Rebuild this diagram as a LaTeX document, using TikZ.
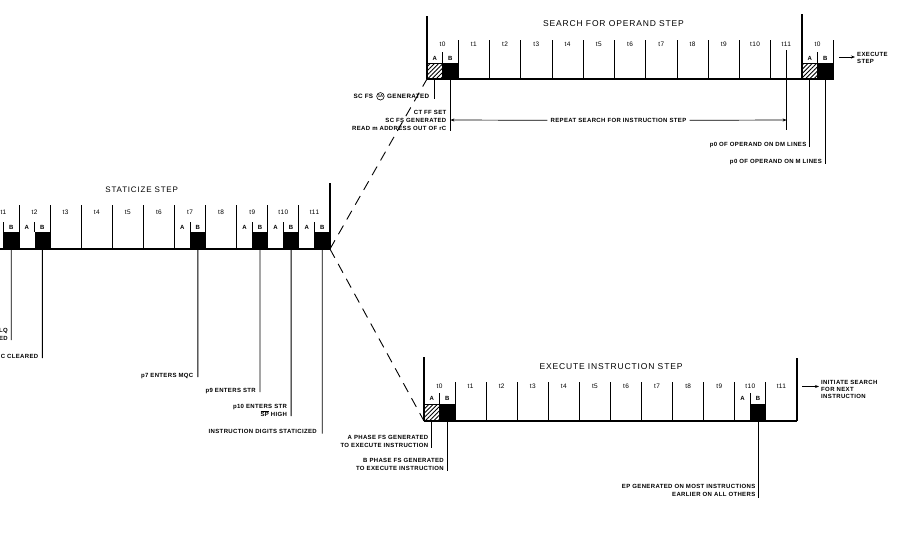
\documentclass[tikz,border=0pt]{standalone}
\usepackage{fontspec}
\setmainfont{Liberation Sans}
\newfontfamily\labfnt[LetterSpace=6]{Liberation Sans}
\newfontfamily\hdfnt[LetterSpace=10]{Liberation Sans}
\usetikzlibrary{patterns,patterns.meta,arrows.meta}
\newcommand\ovl[1]{$\overline{\mbox{#1}}$}
\tikzset{
  lab/.style={font=\labfnt\bfseries\fontsize{6}{8}\selectfont, inner sep=0pt, text depth=0pt, align=right},
  labl/.style={font=\labfnt\bfseries\fontsize{6}{7}\selectfont, inner sep=0pt, align=left},
  tl/.style={font=\labfnt\fontsize{6.5}{7}\selectfont, inner sep=0pt},
  ab/.style={font=\labfnt\bfseries\fontsize{6}{7}\selectfont, inner sep=0pt},
  hd/.style={font=\hdfnt\fontsize{8.5}{10}\selectfont, inner sep=0pt},
  dv/.style={line width=0.9pt},
  bl/.style={line width=1.3pt},
  ln/.style={line width=0.9pt},
  arr/.style={line width=0.7pt, -{Stealth[length=4pt,width=3pt]}},
  hatch/.style={draw, line width=0.7pt, pattern={Lines[angle=45,distance=3pt,line width=0.9pt]}},
  dsh/.style={line width=0.9pt, dash pattern=on 10pt off 7pt},
}
\begin{document}
\begin{tikzpicture}[x=1pt,y=-1pt]
\useasboundingbox (0,0) rectangle (913,549);

% ================= STATICIZE STEP =================
\def\sx{-12.1}\def\sw{31.1}
\node[hd, font=\hdfnt\fontsize{8}{10}\selectfont] (hstat) at (141.7,190) {STATICIZE STEP};
\foreach \k in {1,...,10} \draw[dv] ({\sx+\k*\sw},205) -- ({\sx+\k*\sw},249);
\foreach \k in {1,...,11} \node[tl] (st\k) at ({\sx+(\k-0.5)*\sw},212) {t\k};
\foreach \k in {2,7,9,10,11} \node[ab] (sA\k) at ({\sx+(\k-0.75)*\sw},227) {A};
\foreach \k in {1,2,7,9,10,11} {
  \node[ab] (sB\k) at ({\sx+(\k-0.25)*\sw},227) {B};
  \draw[dv] ({\sx+(\k-0.5)*\sw},222) -- ({\sx+(\k-0.5)*\sw},232);
  \fill ({\sx+(\k-0.5)*\sw},232) rectangle ({\sx+\k*\sw},249);
  \coordinate (sb\k) at ({\sx+(\k-0.25)*\sw},249);
}
\draw[bl] (-13,249) -- (330,249);
\coordinate (sEnd) at (330,249);
\draw[bl] (330,183) -- (sEnd);

\coordinate (se1) at (11.2,340);
\draw[ln] (sb1) -- (se1);
\node[lab, anchor=south east] (ls1) at (8,340.5) {LQ\\ED};
\coordinate (se2) at (42.3,358);
\draw[ln] (sb2) -- (se2);
\node[lab, anchor=south east] (ls2) at (38.5,358.5) {C CLEARED};
\coordinate (se7) at (197.8,377);
\draw[ln] (sb7) -- (se7);
\node[lab, anchor=south east] (ls7) at (193.5,377.5) {p7 ENTERS MQC};
\coordinate (se9) at (260,392);
\draw[ln] (sb9) -- (se9);
\node[lab, anchor=south east] (ls9) at (256,392.5) {p9 ENTERS STR};
\coordinate (se10) at (291.1,416);
\draw[ln] (sb10) -- (se10);
\node[lab, anchor=south east] (ls10) at (287.2,416.5) {p10 ENTERS STR\\\ovl{SP} HIGH};
\coordinate (se11) at (322.2,433.5);
\draw[ln] (sb11) -- (se11);
\node[lab, anchor=south east] (ls11) at (317,434) {INSTRUCTION DIGITS STATICIZED};

% ================= SEARCH FOR OPERAND STEP =================
\def\qx{427}\def\qw{31.25}
\node[hd] (hsearch) at (613.5,24) {SEARCH FOR OPERAND STEP};
\foreach \k in {1,...,11} \draw[dv] ({\qx+\k*\qw},40) -- ({\qx+\k*\qw},79);
\foreach \k in {0,...,11} \node[tl] (qt\k) at ({\qx+(\k+0.5)*\qw},44) {t\k};
\coordinate (qOrig) at (427,79);
\draw[bl] (427,16) -- (qOrig);
\draw[bl] (802,14) -- (802,79);
\draw[dv] (833,40) -- (833,79);
\draw[bl] (qOrig) -- (833,79);
\node[tl] (qt0b) at (817.5,44) {t0};
% first t0
\node[ab] (qA1) at (434.8,58) {A};
\node[ab] (qB1) at (450.4,58) {B};
\draw[dv] (442.6,52) -- (442.6,63);
\path[hatch] (427,63) rectangle (442.6,79);
\filldraw[line width=0.7pt] (442.6,63) rectangle (458.25,79);
% second t0
\node[ab] (qA2) at (809.8,58) {A};
\node[ab] (qB2) at (825.4,58) {B};
\draw[dv] (817.6,52) -- (817.6,63);
\path[hatch] (802,63) rectangle (817.6,79);
\filldraw[line width=0.7pt] (817.6,63) rectangle (833,79);

% lines under search
\coordinate (qa1t) at (434.8,79); \coordinate (qa1e) at (434.8,99);
\draw[ln] (qa1t) -- (qa1e);
\node[lab, anchor=south east, font=\labfnt\bfseries\fontsize{6.3}{8}\selectfont] (lgen) at (429.5,98.5) {GENERATED};
\node[draw, circle, line width=0.6pt, inner sep=0pt, minimum size=7.5pt, font=\bfseries\fontsize{4.2}{5}\selectfont, anchor=east] (circ) at ([xshift=-2.5pt,yshift=2.2pt]lgen.south west) {1A};
\node[lab, anchor=south east, font=\labfnt\bfseries\fontsize{6.3}{8}\selectfont] (lscfs) at ([xshift=-3pt]circ.west |- lgen.south) {SC FS};

\coordinate (qb1t) at (450.4,79); \coordinate (qb1e) at (450.4,131);
\draw[ln] (qb1t) -- (qb1e);
\node[lab, anchor=south east] (lct) at (446.5,131) {CT FF SET\\SC FS GENERATED\\READ m ADDRESS OUT OF rC};
\coordinate (qb1m) at (450.4,120);

\coordinate (q11t) at (786.6,50); \coordinate (q11e) at (786.6,129.5);
\draw[ln] (q11t) -- (q11e);
\coordinate (q11m) at (786.6,120);
\node[lab] (rep) at (618.5,120.3) {REPEAT SEARCH FOR INSTRUCTION STEP};
\draw[arr] ([xshift=-3pt]rep.west) -- (qb1m);
\draw[arr] ([xshift=3pt]rep.east) -- (q11m);

\coordinate (qa2t) at (809.8,79); \coordinate (qa2e) at (809.8,147);
\draw[ln] (qa2t) -- (qa2e);
\node[lab, anchor=south east] (ldm) at (806.5,146.5) {p0 OF OPERAND ON DM LINES};
\coordinate (qb2t) at (825.4,79); \coordinate (qb2e) at (825.4,164);
\draw[ln] (qb2t) -- (qb2e);
\node[lab, anchor=south east] (lm) at (822,163.5) {p0 OF OPERAND ON M LINES};

\node[labl, anchor=west] (exs) at (857,58.3) {EXECUTE\\STEP};
\coordinate (exsa) at (839,57);
\draw[arr] (exsa) -- ([xshift=-2pt]exs.west |- exsa);

% ================= EXECUTE INSTRUCTION STEP =================
\def\ex{424}\def\ew{31.08}
\node[hd] (hexec) at (611,367) {EXECUTE INSTRUCTION STEP};
\foreach \k in {1,...,11} \draw[dv] ({\ex+\k*\ew},382) -- ({\ex+\k*\ew},421);
\foreach \k in {0,...,11} \node[tl] (et\k) at ({\ex+(\k+0.5)*\ew},386) {t\k};
\coordinate (eOrig) at (424,421);
\draw[bl] (424,357) -- (eOrig);
\draw[bl] (797,358) -- (797,421);
\draw[bl] (eOrig) -- (797,421);
% t0
\node[ab] (eA0) at (431.8,398) {A};
\node[ab] (eB0) at (447.3,398) {B};
\draw[dv] (439.5,393) -- (439.5,404);
\path[hatch] (424,404) rectangle (439.5,421);
\filldraw[line width=0.7pt] (439.5,404) rectangle (455.1,421);
% t10
\node[ab] (eA10) at (742.6,398) {A};
\node[ab] (eB10) at (758.1,398) {B};
\draw[dv] (750.3,393) -- (750.3,404);
\fill (750.3,404) rectangle (765.9,421);

\coordinate (eat) at (431.8,421); \coordinate (eae) at (431.8,448);
\draw[ln] (eat) -- (eae);
\node[lab, anchor=south east] (lea) at (428.5,447.8) {A PHASE FS GENERATED\\TO EXECUTE INSTRUCTION};
\coordinate (ebt) at (447.3,421); \coordinate (ebe) at (447.3,471);
\draw[ln] (ebt) -- (ebe);
\node[lab, anchor=south east] (leb) at (444,470.5) {B PHASE FS GENERATED\\TO EXECUTE INSTRUCTION};
\coordinate (ept) at (758.1,421); \coordinate (epe) at (758.1,497.5);
\draw[ln] (ept) -- (epe);
\node[lab, anchor=south east] (lep) at (755.5,497) {EP GENERATED ON MOST INSTRUCTIONS\\EARLIER ON ALL OTHERS};

\node[labl, anchor=west] (init) at (821,389.5) {INITIATE SEARCH\\FOR NEXT\\INSTRUCTION};
\coordinate (inita) at (802,386.5);
\draw[arr] (inita) -- ([xshift=-2pt]init.west |- inita);

% ================= DASHED CONNECTIONS =================
\draw[dsh] (sEnd) -- (qOrig);
\draw[dsh] (sEnd) -- (eOrig);
\end{tikzpicture}
\end{document}
